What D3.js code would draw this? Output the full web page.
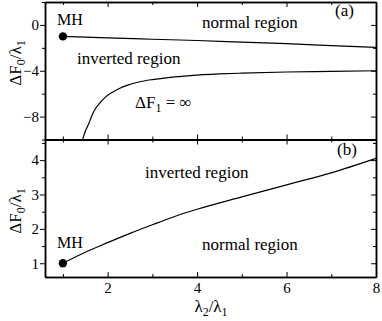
<!DOCTYPE html>
<html>
<head>
<meta charset="utf-8">
<script src="https://cdn.jsdelivr.net/npm/d3@7"></script>
<style>
  body { margin: 0; background: #fff; font-family: "Times New Roman", serif; }
  svg text { font-family: "Times New Roman", serif; }
</style>
</head>
<body>
<svg id="chart" width="382" height="321" font-family="Times New Roman, serif"></svg>
<script>
// panel (a): two boundaries
const upperX = [1, 2, 3, 4, 5, 6, 7, 8];
const upperY = [-1, -1.13, -1.25, -1.36, -1.5, -1.64, -1.8, -1.96];
const lowerX = [1.44, 1.5, 1.58, 1.65, 1.73, 1.84, 1.95, 2.1, 2.25, 2.45, 2.7, 3.0, 3.4, 3.85, 4.5, 5, 6, 7, 8];
const lowerY = [-10, -9.3, -8.6, -7.9, -7.3, -6.75, -6.3, -5.9, -5.57, -5.25, -4.98, -4.77, -4.57, -4.42, -4.28, -4.21, -4.11, -4.05, -4.0];
// panel (b)
const bX = [1, 1.5, 2, 2.5, 3, 3.5, 4, 5, 6, 7, 8];
const bY = [1, 1.32, 1.6, 1.87, 2.12, 2.36, 2.57, 2.93, 3.28, 3.63, 4.05];
// MH points
const mhA = [1, -1];
const mhB = [1, 1];
// ticks
const xMajor = [2, 4, 6, 8];
const xMinor = [1, 3, 5, 7];
const aMajor = [0, -4, -8];
const aMinor = [2, -2, -6, -10];
const bMajor = [1, 2, 3, 4];
const bMinor = [1.5, 2.5, 3.5, 4.5];

const FONT = 'Times New Roman, serif';
const svg = d3.select('#chart');
const left = 45, right = 376, topA = 2, mid = 139.5, bottom = 277;

const x = d3.scaleLinear().domain([0.6, 8]).range([left, right]);
const ya = d3.scaleLinear().domain([-10, 2]).range([mid, topA]);
const yb = d3.scaleLinear().domain([0.6, 4.6]).range([bottom, mid]);

function frame(y, major, minor, y0, y1, showX) {
  const g = svg.append('g');
  const inside = minor.filter(v => v >= y.domain()[0] && v <= y.domain()[1]);
  // left, outward ticks
  g.append('g').attr('transform', `translate(${left},0)`)
    .call(d3.axisLeft(y).tickValues(major).tickSize(5).tickSizeOuter(0).tickPadding(1).tickFormat(d3.format('d')));
  g.append('g').attr('transform', `translate(${left},0)`)
    .call(d3.axisLeft(y).tickValues(inside).tickSize(3).tickSizeOuter(0).tickFormat(''));
  // right, inward
  g.append('g').attr('transform', `translate(${right},0)`)
    .call(d3.axisRight(y).tickValues(major).tickSize(-5).tickSizeOuter(0).tickFormat(''));
  g.append('g').attr('transform', `translate(${right},0)`)
    .call(d3.axisRight(y).tickValues(inside).tickSize(-3).tickSizeOuter(0).tickFormat(''));
  // top, inward
  g.append('g').attr('transform', `translate(0,${y1})`)
    .call(d3.axisTop(x).tickValues(xMajor).tickSize(-5).tickSizeOuter(0).tickFormat(''));
  g.append('g').attr('transform', `translate(0,${y1})`)
    .call(d3.axisTop(x).tickValues(xMinor).tickSize(-3).tickSizeOuter(0).tickFormat(''));
  // bottom, inward
  g.append('g').attr('transform', `translate(0,${y0})`)
    .call(d3.axisBottom(x).tickValues(xMajor).tickSize(-5).tickSizeOuter(0).tickPadding(5)
      .tickFormat(showX ? d3.format('d') : ''));
  g.append('g').attr('transform', `translate(0,${y0})`)
    .call(d3.axisBottom(x).tickValues(xMinor).tickSize(-3).tickSizeOuter(0).tickFormat(''));
  g.selectAll('g').attr('font-family', FONT);
  g.selectAll('.domain').attr('stroke', '#000').attr('stroke-width', 1.5);
  g.selectAll('.tick line').attr('stroke', '#000').attr('stroke-width', 1);
  g.selectAll('.tick text').attr('font-size', 15).attr('fill', '#000');
}

frame(ya, aMajor, aMinor, mid, topA, false);
frame(yb, bMajor, bMinor, bottom, mid, true);

const line = (yScale) => d3.line().x(d => x(d[0])).y(d => yScale(d[1])).curve(d3.curveMonotoneX);

svg.append('path').datum(upperX.map((v, i) => [v, upperY[i]]))
  .attr('d', line(ya)).attr('fill', 'none').attr('stroke', '#000').attr('stroke-width', 1.2);
svg.append('path').datum(lowerX.map((v, i) => [v, lowerY[i]]))
  .attr('d', line(ya)).attr('fill', 'none').attr('stroke', '#000').attr('stroke-width', 1.2);
svg.append('path').datum(bX.map((v, i) => [v, bY[i]]))
  .attr('d', line(yb)).attr('fill', 'none').attr('stroke', '#000').attr('stroke-width', 1.2);

svg.append('circle').attr('cx', x(mhA[0])).attr('cy', ya(mhA[1])).attr('r', 4.2).attr('fill', '#000');
svg.append('circle').attr('cx', x(mhB[0])).attr('cy', yb(mhB[1])).attr('r', 4.2).attr('fill', '#000');

// labels
function label(tx, ty, str, size) {
  return svg.append('text').attr('x', tx).attr('y', ty).attr('font-size', size || 17)
    .attr('font-family', FONT).text(str);
}
label(57, 25, 'MH', 16);
label(202, 28, 'normal region');
label(335, 16, '(a)');
label(77, 64, 'inverted region');
const df = svg.append('text').attr('x', 135).attr('y', 108).attr('font-size', 17).attr('font-family', FONT);
df.append('tspan').text('ΔF');
df.append('tspan').attr('dy', 4).attr('font-size', 12).text('1');
df.append('tspan').attr('dy', -4).text(' = ∞');

label(337, 155, '(b)');
label(145, 178, 'inverted region');
label(202, 250, 'normal region');
label(57, 248, 'MH', 16);

function yLabel(cx, cy) {
  const t = svg.append('text')
    .attr('transform', `translate(${cx},${cy}) rotate(-90)`)
    .attr('text-anchor', 'middle').attr('font-size', 17).attr('font-family', FONT);
  t.append('tspan').text('ΔF');
  t.append('tspan').attr('dy', 4).attr('font-size', 12).text('0');
  t.append('tspan').attr('dy', -4).text('/λ');
  t.append('tspan').attr('dy', 4).attr('font-size', 12).text('1');
}
yLabel(21, 63);
yLabel(21, 211);

const xl = svg.append('text').attr('x', 211).attr('y', 312).attr('text-anchor', 'middle')
  .attr('font-size', 17).attr('font-family', FONT);
xl.append('tspan').text('λ');
xl.append('tspan').attr('dy', 4).attr('font-size', 12).text('2');
xl.append('tspan').attr('dy', -4).text('/λ');
xl.append('tspan').attr('dy', 4).attr('font-size', 12).text('1');
</script>
</body>
</html>
